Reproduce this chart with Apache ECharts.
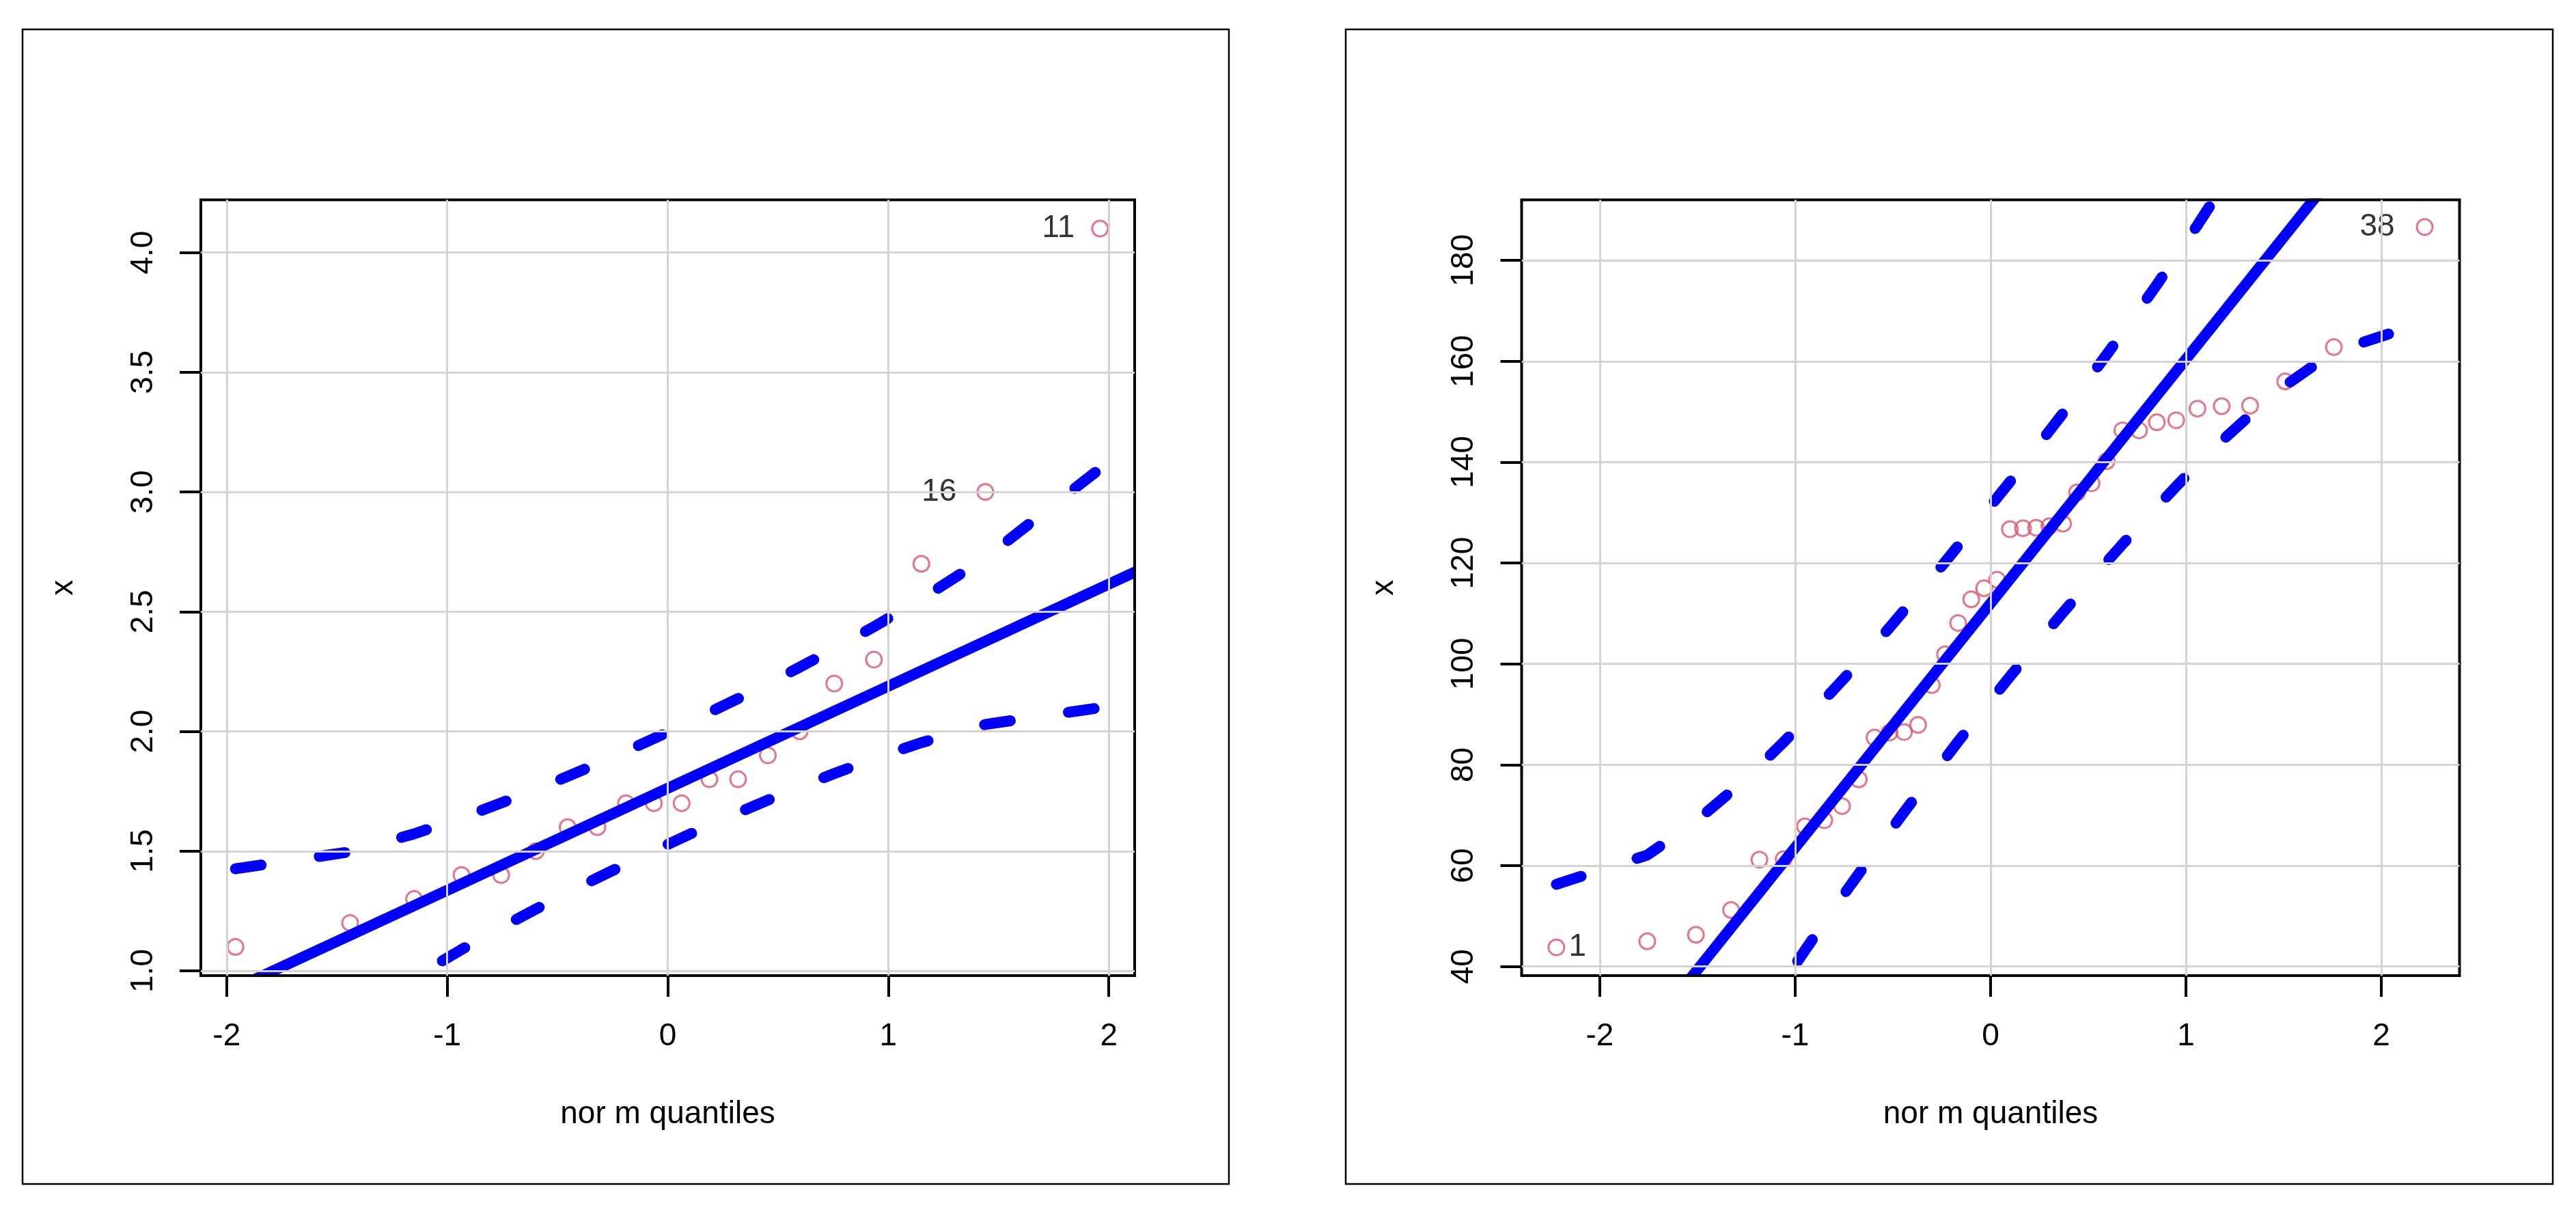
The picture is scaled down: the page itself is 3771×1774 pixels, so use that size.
<!DOCTYPE html>
<html><head><meta charset="utf-8">
<script src="https://cdn.jsdelivr.net/npm/echarts@6/dist/echarts.min.js"></script>
<style>html,body{margin:0;padding:0;background:#fff}#c{width:3771px;height:1774px}</style>
</head><body><div id="c"></div>
<script>
// ---------- data: left panel (n = 20) ----------
const leftQuantiles = [-1.960,-1.440,-1.150,-0.935,-0.755,-0.598,-0.454,-0.319,-0.189,-0.063,0.063,0.189,0.319,0.454,0.598,0.755,0.935,1.150,1.440,1.960];
const leftValues    = [1.1,1.2,1.3,1.4,1.4,1.5,1.6,1.6,1.7,1.7,1.7,1.8,1.8,1.9,2.0,2.2,2.3,2.7,3.0,4.1];
const leftUpper     = [1.426,1.497,1.572,1.639,1.701,1.758,1.812,1.865,1.918,1.970,2.024,2.079,2.137,2.199,2.268,2.345,2.437,2.553,2.724,3.097];
const leftLower     = [0.428,0.801,0.972,1.089,1.181,1.258,1.326,1.388,1.446,1.501,1.555,1.608,1.660,1.713,1.767,1.824,1.886,1.953,2.029,2.099];
const leftLine      = [[-2.117,0.860],[2.117,2.665]];
const leftLabelIndex = [19,18];
const leftLabelText  = ['11','16'];
const leftXTicks = [-2,-1,0,1,2];
const leftYTicks = [1.0,1.5,2.0,2.5,3.0,3.5,4.0];

// ---------- data: right panel (n = 38) ----------
const rightQuantiles = [-2.222,-1.757,-1.508,-1.328,-1.183,-1.059,-0.950,-0.851,-0.760,-0.6745,-0.594,-0.517,-0.443,-0.371,-0.301,-0.233,-0.166,-0.099,-0.033,0.033,0.099,0.166,0.233,0.301,0.371,0.443,0.517,0.594,0.6745,0.760,0.851,0.950,1.059,1.183,1.328,1.508,1.757,2.222];
const rightValues    = [43.8,45.0,46.3,51.2,61.2,61.3,67.8,69.0,71.8,77.1,85.4,86.4,86.5,87.9,95.8,101.9,108.1,112.8,115.0,116.7,126.7,126.9,127.0,127.3,127.8,134.0,135.8,140.2,146.3,146.3,147.9,148.3,150.6,151.1,151.2,156.0,162.8,186.6];
const rightUpper     = [56.3,62.1,68.8,74.7,79.8,84.5,88.8,92.9,96.7,100.3,103.8,107.2,110.6,113.8,117.0,120.2,123.4,126.5,129.7,132.9,136.1,139.4,142.8,146.2,149.7,153.4,157.3,161.3,165.6,170.2,175.2,180.8,187.0,194.4,203.2,214.8,232.2,271.4];
const rightLower     = [-47.4,-8.2,9.2,20.8,29.7,37.0,43.2,48.8,53.8,58.4,62.7,66.7,70.6,74.3,77.8,81.2,84.6,87.9,91.1,94.3,97.5,100.6,103.8,107.0,110.2,113.4,116.8,120.2,123.7,127.3,131.1,135.2,139.5,144.2,149.3,155.2,161.9,167.7];
const rightLine      = [[-2.40,-4.2],[2.40,228.2]];
const rightLabelIndex = [37,0];
const rightLabelText  = ['38','1'];
const rightXTicks = [-2,-1,0,1,2];
const rightYTicks = [40,60,80,100,120,140,160,180];

// ---------- styling ----------
const FONT = "'Liberation Sans', Arial, Helvetica, sans-serif";
const FS = 46;
const BLUE = '#0000FF';
const RED = '#DF536B';
const GRIDC = '#D3D3D3';
const LW = 16;
const DASH = [38, 86];

const grids = [
  {left:294, top:292.5, width:1367, height:1135.5},
  {left:2227.5, top:292.5, width:1373, height:1135.5}
];

function pairs(xs, ys){ return xs.map((x,i)=>[x, ys[i]]); }

function pointData(xs, ys, idx, txt, pos, dist){
  return xs.map((x,i)=>{
    const k = idx.indexOf(i);
    const item = {value:[x, ys[i]]};
    if (k >= 0) {
      item.label = {show:true, formatter: txt[k], position: pos[k], distance: dist[k],
        fontSize: FS, fontFamily: FONT, color:'#000'};
    }
    return item;
  });
}

function xAxisCfg(gi, min, max, ticks){
  return {
    type:'value', gridIndex:gi, min:min, max:max, z:60, position:'bottom',
    name:'nor m quantiles', nameLocation:'middle', nameGap:180,
    nameTextStyle:{fontSize:FS, fontFamily:FONT, color:'#000'},
    axisLine:{show:false, onZero:false},
    axisTick:{show:true, length:31, customValues:ticks, lineStyle:{color:'#000', width:4}},
    axisLabel:{show:true, customValues:ticks, margin:66, fontSize:FS, fontFamily:FONT, color:'#000',
      formatter:v=>String(v)},
    splitLine:{show:true, lineStyle:{color:GRIDC, width:3}}
  };
}
function yAxisCfg(gi, min, max, ticks, dec){
  return {
    type:'value', gridIndex:gi, min:min, max:max, z:60, position:'left',
    name:'x', nameLocation:'middle', nameGap:178, nameRotate:90,
    nameTextStyle:{fontSize:FS, fontFamily:FONT, color:'#000'},
    axisLine:{show:false, onZero:false},
    axisTick:{show:true, length:31, customValues:ticks, lineStyle:{color:'#000', width:4}},
    axisLabel:{show:true, customValues:ticks, rotate:90, margin:61, fontSize:FS, fontFamily:FONT, color:'#000',
      formatter:v=>v.toFixed(dec)},
    splitLine:{show:true, lineStyle:{color:GRIDC, width:3}}
  };
}

function panelSeries(gi, qs, vs, up, lo, line, idx, txt, pos, dist){
  return [
    {type:'scatter', xAxisIndex:gi, yAxisIndex:gi, symbol:'circle', symbolSize:23, z:2,
      itemStyle:{color:'rgba(0,0,0,0)', borderColor:RED, borderWidth:3},
      data: pointData(qs, vs, idx, txt, pos, dist), silent:true},
    {type:'line', xAxisIndex:gi, yAxisIndex:gi, showSymbol:false, symbol:'none', z:3, clip:true,
      lineStyle:{color:BLUE, width:LW, cap:'round'}, data: line, silent:true},
    {type:'line', xAxisIndex:gi, yAxisIndex:gi, showSymbol:false, symbol:'none', z:3, clip:true,
      lineStyle:{color:BLUE, width:LW, type:DASH, cap:'round', join:'round'}, data: pairs(qs, up), silent:true},
    {type:'line', xAxisIndex:gi, yAxisIndex:gi, showSymbol:false, symbol:'none', z:3, clip:true,
      lineStyle:{color:BLUE, width:LW, type:DASH, cap:'round', join:'round'}, data: pairs(qs, lo), silent:true}
  ];
}

// white masks just outside each plot box (hide the line overflow past the box)
const masks = [];
grids.forEach(g=>{
  const b = 2, m = 12;
  masks.push({type:'rect', z:50, shape:{x:g.left-b-m, y:g.top-b-m, width:g.width+2*(b+m), height:m}, style:{fill:'#fff'}, silent:true});
  masks.push({type:'rect', z:50, shape:{x:g.left-b-m, y:g.top+g.height+b, width:g.width+2*(b+m), height:m}, style:{fill:'#fff'}, silent:true});
  masks.push({type:'rect', z:50, shape:{x:g.left-b-m, y:g.top-b-m, width:m, height:g.height+2*(b+m)}, style:{fill:'#fff'}, silent:true});
  masks.push({type:'rect', z:50, shape:{x:g.left+g.width+b, y:g.top-b-m, width:m, height:g.height+2*(b+m)}, style:{fill:'#fff'}, silent:true});
  masks.push({type:'rect', z:55, shape:{x:g.left, y:g.top, width:g.width, height:g.height},
    style:{fill:null, stroke:'#000', lineWidth:4}, silent:true});
});
const frames = [
  {type:'rect', z:55, shape:{x:33, y:43, width:1766, height:1690}, style:{fill:null, stroke:'#000', lineWidth:2.5}, silent:true},
  {type:'rect', z:55, shape:{x:1970, y:43, width:1767, height:1690}, style:{fill:null, stroke:'#000', lineWidth:2.5}, silent:true}
];

const chart = echarts.init(document.getElementById('c'), null, {renderer:'canvas'});
chart.setOption({
  animation:false,
  backgroundColor:'#fff',
  grid: grids.map(g=>Object.assign({show:false, containLabel:false}, g)),
  xAxis:[xAxisCfg(0,-2.117,2.117,leftXTicks), xAxisCfg(1,-2.40,2.40,rightXTicks)],
  yAxis:[yAxisCfg(0,0.98,4.22,leftYTicks,1), yAxisCfg(1,38.2,192.0,rightYTicks,0)],
  series:[]
    .concat(panelSeries(0, leftQuantiles, leftValues, leftUpper, leftLower, leftLine,
      leftLabelIndex, leftLabelText, ['left','left'], [24,29]))
    .concat(panelSeries(1, rightQuantiles, rightValues, rightUpper, rightLower, rightLine,
      rightLabelIndex, rightLabelText, ['left','right'], [31,5])),
  graphic: masks.concat(frames)
});
</script>
</body></html>
